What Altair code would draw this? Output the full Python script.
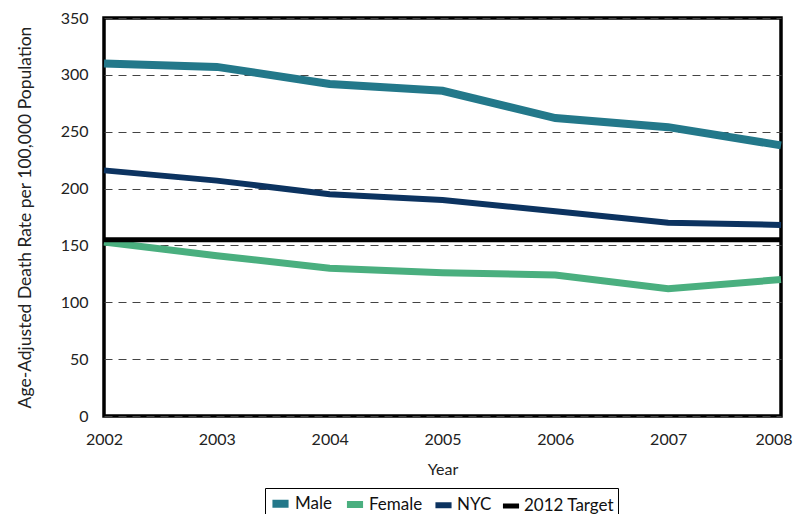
import altair as alt
import pandas as pd

years = [2002, 2003, 2004, 2005, 2006, 2007, 2008]
male = [310, 307, 292, 286, 262, 254, 238]
female = [153, 141, 130, 126, 124, 112, 120]
nyc = [216, 207, 195, 190, 180, 170, 168]
target = [155] * 7

series = ["Male", "Female", "NYC", "2012 Target"]
colors = ["#23788a", "#4aaf7f", "#0c3360", "#000000"]
widths = [8, 5, 5, 2.2]

rows = []
for name, vals in zip(series, [male, female, nyc, target]):
    for y, v in zip(years, vals):
        rows.append({"Year": y, "Rate": v, "Series": name})
df = pd.DataFrame(rows)
df["order"] = df["Series"].map({s: i for i, s in enumerate(series)})

FONT = "Lato"

leg = alt.Legend(title=None, orient="none", direction="horizontal",
                 legendX=161, legendY=470,
                 symbolType="stroke", symbolSize=260,
                 labelFontSize=17, labelFont=FONT,
                 labelColor="#111", strokeColor="#000",
                 fillColor="white", padding=3,
                 columnPadding=0, symbolOffset=0,
                 labelOffset=2)

last_test = "datum.value == 2008"

chart = alt.Chart(df).mark_line(strokeCap="butt").encode(
    x=alt.X("Year:Q", scale=alt.Scale(domain=[2002, 2008], nice=False),
            axis=alt.Axis(values=years, format="d", title="Year", grid=False,
                          ticks=False, domain=False, labelPadding=15,
                          titlePadding=14, labelFontSize=16, titleFontSize=16,
                          labelFont=FONT, titleFont=FONT, labelColor="#222",
                          titleColor="#222", titleFontWeight="normal",
                          labelFlush=False,
                          labelAlign={"condition": {"test": last_test, "value": "right"},
                                      "value": "center"},
                          labelOffset={"condition": {"test": last_test, "value": 11},
                                       "value": 0})),
    y=alt.Y("Rate:Q", scale=alt.Scale(domain=[0, 350], nice=False),
            axis=alt.Axis(values=[0, 50, 100, 150, 200, 250, 300, 350],
                          title="Age-Adjusted Death Rate per 100,000 Population",
                          grid=True, gridDash=[8, 6], gridColor="#444",
                          gridWidth=1.2, ticks=False, domain=False,
                          labelPadding=16, titlePadding=26, labelFontSize=16,
                          titleFontSize=17.5, labelFont=FONT, titleFont=FONT,
                          labelColor="#222", titleColor="#222",
                          titleFontWeight="normal")),
    color=alt.Color("Series:N", scale=alt.Scale(domain=series, range=colors),
                    legend=leg),
    strokeWidth=alt.StrokeWidth("Series:N", scale=alt.Scale(domain=series, range=widths),
                                legend=leg),
    order=alt.Order("order:Q"),
).properties(
    width=677, height=398,
    autosize=alt.AutoSizeParams(type="none"),
    padding={"left": 96, "top": 10, "right": 12, "bottom": 98},
).configure_view(stroke="#000", strokeWidth=3.5)

chart.save("out.html", embed_options={"renderer": "svg", "actions": False})
